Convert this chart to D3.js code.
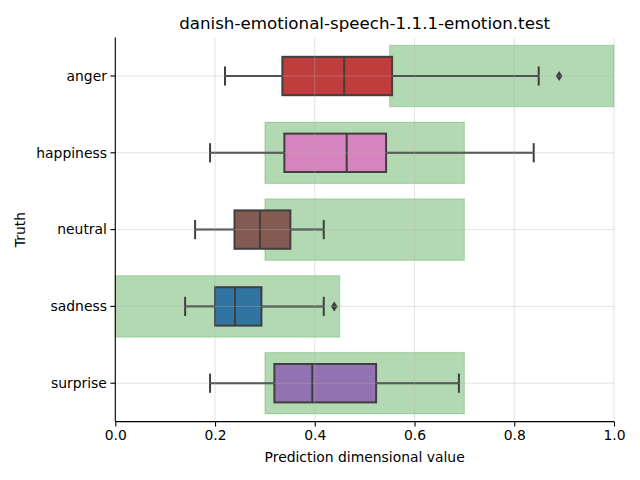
<!DOCTYPE html>
<html><head><meta charset="utf-8">
<script src="https://cdn.jsdelivr.net/npm/d3@7"></script>
<style>body{margin:0;background:#fff}svg{font-family:"DejaVu Sans",sans-serif}</style>
</head><body><svg id="c" width="640" height="480"></svg>
<script>
const categories = ["anger","happiness","neutral","sadness","surprise"];
const whiskLow  = [0.22, 0.19, 0.16, 0.14, 0.19];
const q1        = [0.335, 0.339, 0.239, 0.20, 0.319];
const median    = [0.459, 0.464, 0.290, 0.240, 0.395];
const q3        = [0.555, 0.543, 0.351, 0.293, 0.523];
const whiskHigh = [0.849, 0.839, 0.418, 0.418, 0.689];
const outliers  = [[0.89], [], [], [0.439], []];
const bandLow   = [0.55, 0.30, 0.30, 0.00, 0.30];
const bandHigh  = [1.00, 0.70, 0.70, 0.45, 0.70];
const colors    = ["#c03d3e", "#d684bd", "#845b53", "#3274a1", "#9372b2"];
const xTicks    = [0, 0.2, 0.4, 0.6, 0.8, 1.0];

const svg = d3.select("#c");
const L = 115.3, R = 614, T = 37.6, B = 421.6;
const x = d3.scaleLinear().domain([0,1]).range([L,R]);
const y = d3.scaleBand().domain(categories).range([T,B]);
const bw = y.bandwidth();
const cy = c => y(c) + bw/2;

// green bands
svg.append("g").selectAll("rect").data(categories).join("rect")
  .attr("x", (c,i) => x(bandLow[i]))
  .attr("width", (c,i) => x(bandHigh[i]) - x(bandLow[i]))
  .attr("y", c => cy(c) - bw*0.4)
  .attr("height", bw*0.8)
  .attr("fill", "rgba(0,128,0,0.3)")
  .attr("stroke", "rgba(0,128,0,0.2)")
  .attr("stroke-width", 1.2);

// boxes
const g = svg.append("g");
categories.forEach((c,i) => {
  const yc = cy(c), h = bw*0.5;
  const st = {stroke:"#3f3f3f", "stroke-width":2};
  const ln = (x1,y1,x2,y2) => { const l = g.append("line").attr("x1",x1).attr("y1",y1).attr("x2",x2).attr("y2",y2); Object.entries(st).forEach(([k,v])=>l.attr(k,v)); };
  ln(x(whiskLow[i]), yc, x(q1[i]), yc);
  ln(x(q3[i]), yc, x(whiskHigh[i]), yc);
  ln(x(whiskLow[i]), yc-h/4, x(whiskLow[i]), yc+h/4);
  ln(x(whiskHigh[i]), yc-h/4, x(whiskHigh[i]), yc+h/4);
  g.append("rect").attr("x", x(q1[i])).attr("width", x(q3[i])-x(q1[i]))
    .attr("y", yc-h/2).attr("height", h).attr("fill", colors[i])
    .attr("stroke","#3f3f3f").attr("stroke-width",2);
  ln(x(median[i]), yc-h/2, x(median[i]), yc+h/2);
  outliers[i].forEach(o => {
    g.append("path").attr("d", `M${x(o)},${yc-5}L${x(o)+3.3},${yc}L${x(o)},${yc+5}L${x(o)-3.3},${yc}Z`).attr("fill","#3f3f3f");
  });
});

// grid on top
const grid = svg.append("g").attr("stroke","#b0b0b0").attr("stroke-opacity",0.45).attr("stroke-width",0.8);
xTicks.forEach(t => grid.append("line").attr("x1",x(t)).attr("x2",x(t)).attr("y1",T).attr("y2",B));
categories.forEach(c => grid.append("line").attr("x1",L).attr("x2",R).attr("y1",cy(c)).attr("y2",cy(c)));

// axes
const xa = svg.append("g").attr("transform",`translate(0,${B})`)
  .call(d3.axisBottom(x).tickValues(xTicks).tickFormat(d3.format(".1f")).tickSize(4.9).tickPadding(3.5));
const ya = svg.append("g").attr("transform",`translate(${L},0)`)
  .call(d3.axisLeft(y).tickSize(4.9).tickPadding(3.5));
[xa,ya].forEach(a => {
  a.selectAll("path.domain").attr("stroke","#000").attr("stroke-width",1.1);
  a.selectAll(".tick line").attr("stroke","#000").attr("stroke-width",1.1);
  a.selectAll("text").attr("font-size",13.9).attr("fill","#000").attr("font-family","DejaVu Sans");
});
xa.select("path.domain").attr("d",`M${L},0H${R}`);
ya.select("path.domain").attr("d",`M0,${T}V${B}`);
ya.selectAll("text").attr("dy","0.35em");

svg.append("text").attr("x",(L+R)/2).attr("y",29).attr("text-anchor","middle")
  .attr("font-size",16.7).text("danish-emotional-speech-1.1.1-emotion.test");
svg.append("text").attr("x",(L+R)/2).attr("y",462).attr("text-anchor","middle")
  .attr("font-size",13.9).text("Prediction dimensional value");
svg.append("text").attr("transform",`translate(25,${(T+B)/2}) rotate(-90)`).attr("text-anchor","middle")
  .attr("font-size",13.9).text("Truth");
</script></body></html>
